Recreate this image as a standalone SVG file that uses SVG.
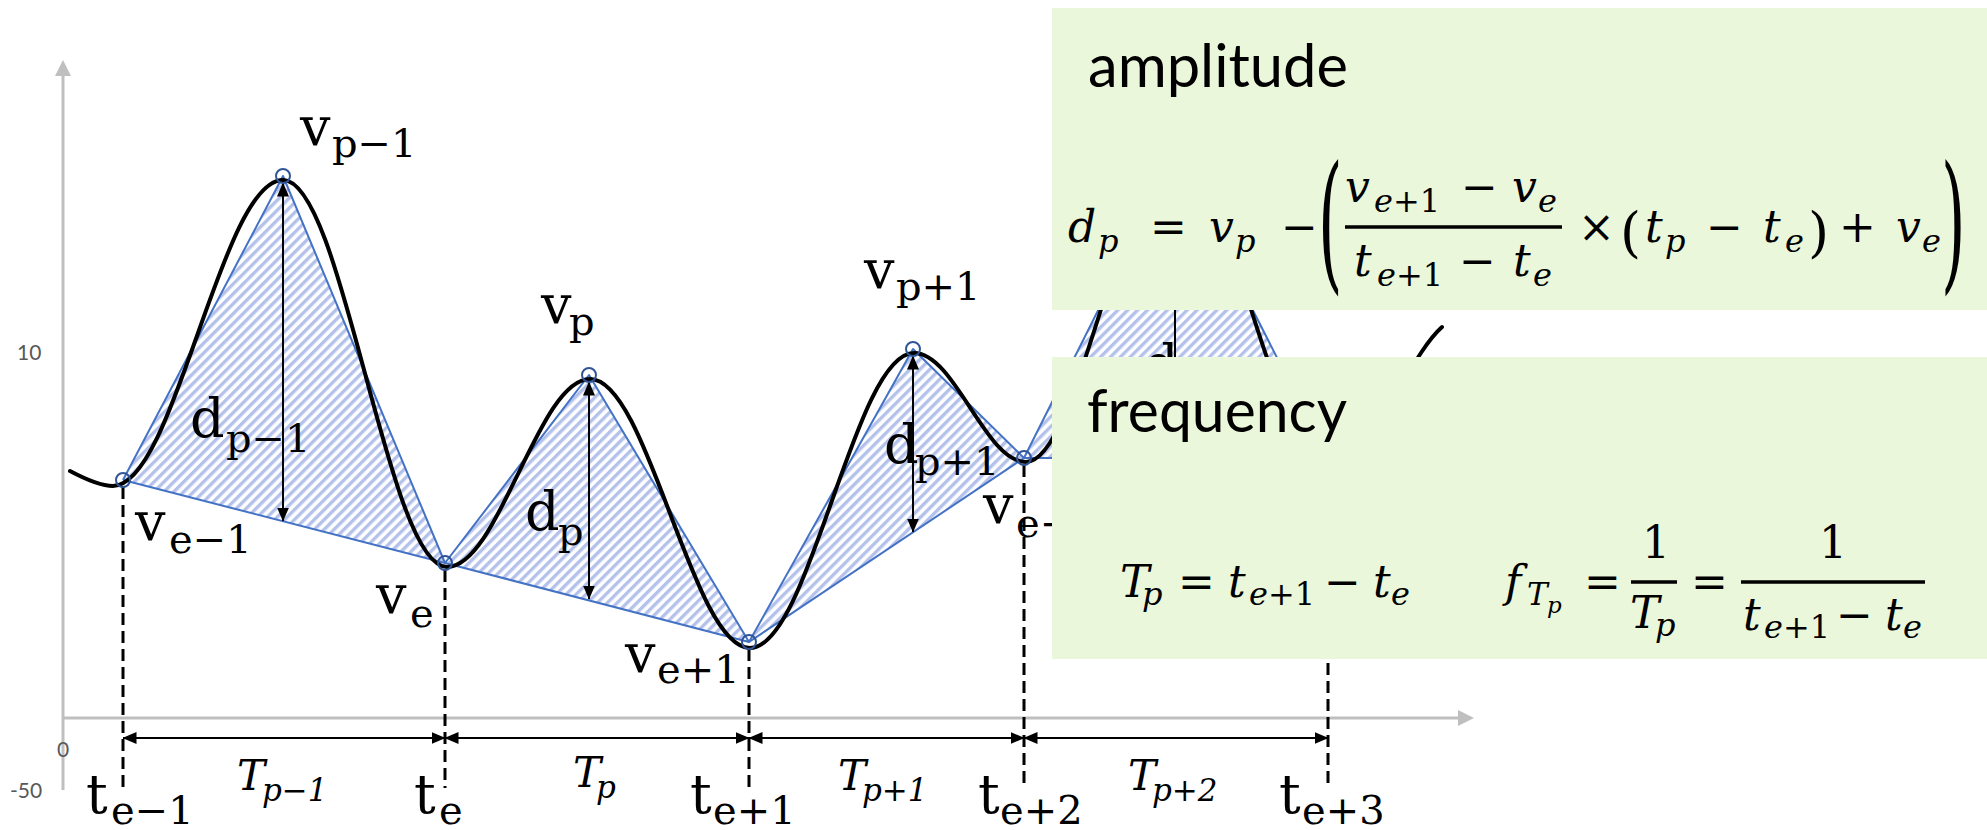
<svg xmlns="http://www.w3.org/2000/svg" width="1987" height="830" viewBox="0 0 1987 830">
<defs>
<pattern id="hatch" patternUnits="userSpaceOnUse" width="7" height="7" patternTransform="rotate(45)">
<rect x="0" y="0" width="3.4" height="7" fill="#B4C2EB"/>
</pattern>
<marker id="ah" viewBox="0 0 14 12" refX="13.5" refY="6" markerWidth="14" markerHeight="12" markerUnits="userSpaceOnUse" orient="auto-start-reverse">
<path d="M0,0 L14,6 L0,12 z" fill="#000"/>
</marker>
<style>
.axis{stroke:#BFBFBF;stroke-width:3;fill:none}
.axh{fill:#BFBFBF}
.tick{font-family:Lato,"Liberation Sans",sans-serif;font-size:21px;fill:#595959}
.tri{fill:url(#hatch);stroke:none}
.blue{fill:none;stroke:#4472C4;stroke-width:2;stroke-linejoin:round}
.sig{fill:none;stroke:#000;stroke-width:4;stroke-linecap:round}
.ext{fill:none;stroke:#2F5597;stroke-width:2}
.darr{stroke:#000;stroke-width:2;marker-start:url(#ah);marker-end:url(#ah)}
.guide{stroke:#000;stroke-width:3;stroke-dasharray:12 6}
.lbl{font-family:"DejaVu Serif",serif;font-size:54px;fill:#000}
.sub{font-size:40px}
.per{font-family:"DejaVu Serif",serif;font-style:italic;font-size:42px;fill:#000}
.psub{font-size:31px}
.box{fill:#EBF7DB}
.head{font-family:Lato,"Liberation Sans",sans-serif;font-size:60px;fill:#000}
.m{font-family:"DejaVu Serif",serif;font-size:44px;fill:#000}
.mi{font-style:italic}
.ms{font-size:32px}
.bar{stroke:#000;stroke-width:3.5}
.bigp{font-family:"DejaVu Serif",serif;font-size:150px;fill:#000}
.smp{font-family:"DejaVu Serif",serif;font-size:54px;fill:#000}
</style>
</defs>

<g id="axes">
<line class="axis" x1="63" y1="790" x2="63" y2="74"/>
<polygon class="axh" points="63,60 55,76 71,76"/>
<line class="axis" x1="63" y1="718" x2="1460" y2="718"/>
<polygon class="axh" points="1474,718 1458,710 1458,726"/>
<text class="tick" x="17" y="360">10</text>
<text class="tick" x="57" y="757">0</text>
<text class="tick" x="10" y="798">-50</text>
</g>

<g id="amplitude-areas">
<polygon class="tri" points="123,480 283,176 445,563"/>
<polygon class="tri" points="445,563 589,375 749,642"/>
<polygon class="tri" points="749,642 913,349 1024,458"/>
<polygon class="tri" points="1024,458 1175,157 1328,458"/>
</g>

<g id="envelope">
<polyline class="blue" points="123,480 283,176 445,563 589,375 749,642 913,349 1024,458 1175,157 1328,458"/>
<polyline class="blue" points="123,480 445,563 749,642 1024,458 1328,458"/>
</g>

<g id="signal">
<path class="sig" d="M70,471 C85,479 100,486 113,486 C175,486 221,180 283,180 C343,180 387,567 447,567 C499,567 538,379 590,379 C648,379 692,648 750,648 C810,648 854,353 914,353 C955,353 985,462 1026,462 C1080,462 1121,160 1175,160 C1231,160 1272,462 1328,462 C1375,462 1405,360 1442,327"/>
</g>

<g id="connectors">
<line class="darr" x1="283" y1="183" x2="283" y2="521"/>
<line class="darr" x1="589" y1="382" x2="589" y2="599"/>
<line class="darr" x1="913" y1="356" x2="913" y2="532"/>
<line class="darr" x1="1175" y1="164" x2="1175" y2="458"/>
<line class="guide" x1="123" y1="487" x2="123" y2="788"/>
<line class="guide" x1="445" y1="570" x2="445" y2="788"/>
<line class="guide" x1="749" y1="649" x2="749" y2="788"/>
<line class="guide" x1="1024" y1="465" x2="1024" y2="788"/>
<line class="guide" x1="1328" y1="465" x2="1328" y2="788"/>
<line class="darr" x1="123" y1="738" x2="445" y2="738"/>
<line class="darr" x1="445" y1="738" x2="749" y2="738"/>
<line class="darr" x1="749" y1="738" x2="1024" y2="738"/>
<line class="darr" x1="1024" y1="738" x2="1328" y2="738"/>
</g>

<g id="extrema">
<circle class="ext" cx="123" cy="480" r="7"/>
<circle class="ext" cx="283" cy="176" r="7"/>
<circle class="ext" cx="445" cy="563" r="7"/>
<circle class="ext" cx="589" cy="375" r="7"/>
<circle class="ext" cx="749" cy="642" r="7"/>
<circle class="ext" cx="913" cy="349" r="7"/>
<circle class="ext" cx="1024" cy="458" r="7"/>
</g>

<g id="value-labels">
<text class="lbl"><tspan x="300" y="145">v</tspan><tspan class="sub" x="332" y="157">p−1</tspan></text>
<text class="lbl"><tspan x="541" y="323">v</tspan><tspan class="sub" x="569" y="335">p</tspan></text>
<text class="lbl"><tspan x="864" y="288">v</tspan><tspan class="sub" x="896" y="300">p+1</tspan></text>
<text class="lbl"><tspan x="135" y="540">v</tspan><tspan class="sub" x="169" y="553">e−1</tspan></text>
<text class="lbl"><tspan x="376" y="613">v</tspan><tspan class="sub" x="410" y="627">e</tspan></text>
<text class="lbl"><tspan x="625" y="672">v</tspan><tspan class="sub" x="657" y="683">e+1</tspan></text>
<text class="lbl"><tspan x="983" y="523">v</tspan><tspan class="sub" x="1016" y="537">e+2</tspan></text>
</g>

<g id="distance-labels">
<text class="lbl"><tspan x="190" y="437">d</tspan><tspan class="sub" x="226" y="452">p−1</tspan></text>
<text class="lbl"><tspan x="525" y="530">d</tspan><tspan class="sub" x="558" y="545">p</tspan></text>
<text class="lbl"><tspan x="884" y="463">d</tspan><tspan class="sub" x="915" y="475">p+1</tspan></text>
<text class="lbl"><tspan x="1144" y="383">d</tspan></text>
</g>

<g id="time-labels">
<text class="lbl"><tspan x="86" y="813">t</tspan><tspan class="sub" x="111" y="824">e−1</tspan></text>
<text class="lbl"><tspan x="414" y="813">t</tspan><tspan class="sub" x="439" y="824">e</tspan></text>
<text class="lbl"><tspan x="690" y="813">t</tspan><tspan class="sub" x="713" y="824">e+1</tspan></text>
<text class="lbl"><tspan x="978" y="813">t</tspan><tspan class="sub" x="1000" y="824">e+2</tspan></text>
<text class="lbl"><tspan x="1279" y="813">t</tspan><tspan class="sub" x="1302" y="824">e+3</tspan></text>
</g>

<g id="period-labels">
<text class="per"><tspan x="237" y="790">T</tspan><tspan class="psub" x="262" y="801">p−1</tspan></text>
<text class="per"><tspan x="573" y="787">T</tspan><tspan class="psub" x="596" y="798">p</tspan></text>
<text class="per"><tspan x="838" y="790">T</tspan><tspan class="psub" x="862" y="801">p+1</tspan></text>
<text class="per"><tspan x="1128" y="790">T</tspan><tspan class="psub" x="1152" y="801">p+2</tspan></text>
</g>

<g id="amplitude-box">
<rect class="box" x="1052" y="8" width="935" height="302"/>
<text class="head" x="1088" y="87" textLength="260" lengthAdjust="spacingAndGlyphs">amplitude</text>
<text class="m">
<tspan class="mi" x="1068" y="242">d</tspan>
<tspan class="mi ms" x="1098" y="252">p</tspan>
<tspan x="1150" y="242">=</tspan>
<tspan class="mi" x="1209" y="242">v</tspan>
<tspan class="mi ms" x="1235" y="252">p</tspan>
<tspan x="1281" y="242">−</tspan>
<tspan class="mi" x="1345" y="202">v</tspan>
<tspan class="ms" x="1374" y="212"><tspan class="mi">e</tspan>+1</tspan>
<tspan x="1461" y="202">−</tspan>
<tspan class="mi" x="1512" y="202">v</tspan>
<tspan class="mi ms" x="1538" y="212">e</tspan>
<tspan class="mi" x="1354" y="276">t</tspan>
<tspan class="ms" x="1377" y="286"><tspan class="mi">e</tspan>+1</tspan>
<tspan x="1459" y="276">−</tspan>
<tspan class="mi" x="1513" y="276">t</tspan>
<tspan class="mi ms" x="1533" y="286">e</tspan>
<tspan x="1578" y="242">×</tspan>
<tspan class="mi" x="1645" y="242">t</tspan>
<tspan class="mi ms" x="1665" y="252">p</tspan>
<tspan x="1706" y="242">−</tspan>
<tspan class="mi" x="1763" y="242">t</tspan>
<tspan class="mi ms" x="1785" y="252">e</tspan>
<tspan x="1839" y="242">+</tspan>
<tspan class="mi" x="1896" y="242">v</tspan>
<tspan class="mi ms" x="1922" y="252">e</tspan>
</text>
<text class="smp" x="1620" y="251">(</text>
<text class="smp" x="1808" y="251">)</text>
<text class="bigp" transform="translate(1318,273) scale(0.42,1)">(</text>
<text class="bigp" transform="translate(1941,273) scale(0.42,1)">)</text>
<line class="bar" x1="1345" y1="227" x2="1562" y2="227"/>
</g>

<g id="frequency-box">
<rect class="box" x="1052" y="357" width="935" height="302"/>
<text class="head" x="1087" y="432" textLength="260" lengthAdjust="spacingAndGlyphs">frequency</text>
<text class="m">
<tspan class="mi" x="1120" y="597">T</tspan>
<tspan class="mi ms" x="1142" y="605">p</tspan>
<tspan x="1178" y="597">=</tspan>
<tspan class="mi" x="1228" y="597">t</tspan>
<tspan class="ms" x="1249" y="605"><tspan class="mi">e</tspan>+1</tspan>
<tspan x="1324" y="597">−</tspan>
<tspan class="mi" x="1373" y="597">t</tspan>
<tspan class="mi ms" x="1391" y="605">e</tspan>
<tspan class="mi" x="1505" y="597">f</tspan>
<tspan class="mi" style="font-size:31px" x="1527" y="605">T</tspan>
<tspan class="mi" style="font-size:23px" x="1547" y="613">p</tspan>
<tspan x="1584" y="597">=</tspan>
<tspan x="1642" y="558">1</tspan>
<tspan class="mi" x="1630" y="628">T</tspan>
<tspan class="mi ms" x="1655" y="636">p</tspan>
<tspan x="1691" y="597">=</tspan>
<tspan x="1819" y="558">1</tspan>
<tspan class="mi" x="1743" y="630">t</tspan>
<tspan class="ms" x="1764" y="638"><tspan class="mi">e</tspan>+1</tspan>
<tspan x="1836" y="630">−</tspan>
<tspan class="mi" x="1885" y="630">t</tspan>
<tspan class="mi ms" x="1903" y="638">e</tspan>
</text>
<line class="bar" x1="1631" y1="582" x2="1677" y2="582"/>
<line class="bar" x1="1741" y1="582" x2="1925" y2="582"/>
</g>
</svg>
